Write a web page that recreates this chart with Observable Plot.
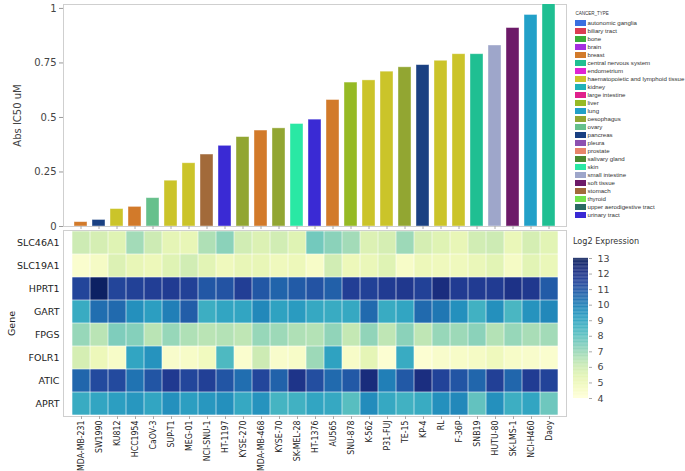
<!DOCTYPE html>
<html><head><meta charset="utf-8">
<script src="https://cdn.jsdelivr.net/npm/d3@7"></script>
<script src="https://cdn.jsdelivr.net/npm/@observablehq/plot@0.6"></script>
<style>
body{margin:0;background:#fff;}
#wrap{position:relative;width:685px;height:471px;overflow:hidden;font-family:"DejaVu Sans",sans-serif;}
#wrap > div, #wrap > svg{position:absolute;}
</style></head><body>
<div id="wrap"></div>
<script>
const lines = ["MDA-MB-231","SW1990","KU812","HCC1954","CaOV-3","SUP-T1","MEG-01","NCI-SNU-1","HT-1197","KYSE-270","MDA-MB-468","KYSE-70","SK-MEL-28","HT-1376","AU565","SNU-878","K-562","P31-FUJ","TE-15","KP-4","RL","F-36P","SNB19","HUTU-80","SK-LMS-1","NCI-H460","Daoy"];
const ic50 = [0.02,0.03,0.08,0.09,0.13,0.21,0.29,0.33,0.37,0.41,0.44,0.45,0.47,0.49,0.58,0.66,0.67,0.71,0.73,0.74,0.76,0.79,0.79,0.83,0.91,0.97,1.02];
const cancerType = ["breast","pancreas","haematopoietic and lymphoid tissue","breast","ovary","haematopoietic and lymphoid tissue","haematopoietic and lymphoid tissue","stomach","urinary tract","oesophagus","breast","oesophagus","skin","urinary tract","breast","liver","haematopoietic and lymphoid tissue","haematopoietic and lymphoid tissue","oesophagus","pancreas","haematopoietic and lymphoid tissue","haematopoietic and lymphoid tissue","central nervous system","small intestine","soft tissue","lung","central nervous system"];
const categories = ["autonomic ganglia","biliary tract","bone","brain","breast","central nervous system","endometrium","haematopoietic and lymphoid tissue","kidney","large intestine","liver","lung","oesophagus","ovary","pancreas","pleura","prostate","salivary gland","skin","small intestine","soft tissue","stomach","thyroid","upper aerodigestive tract","urinary tract"];
const categoryColors = ["#3b6fe0","#dc3c52","#3aae3a","#a52fe0","#d27a2a","#1fbf92","#e024d4","#cbc42a","#1fb2b8","#e0208c","#96ba24","#22a0c8","#92a632","#66c08c","#1a4082","#8c50b0","#e8846a","#4a8830","#2ae8a4","#9ea6ca","#6c1a68","#a26a3a","#72e24e","#2a6a62","#3a2ad4"];
const genes = ["SLC46A1","SLC19A1","HPRT1","GART","FPGS","FOLR1","ATIC","APRT"];
const SLC46A1 = [6.0,5.8,5.5,6.8,6.0,5.3,5.2,6.6,7.2,5.9,5.6,5.9,5.5,7.6,7.2,6.8,5.6,5.8,6.9,5.8,5.5,5.2,5.9,6.0,5.1,5.8,5.4];
const SLC19A1 = [4.3,4.6,5.6,5.2,5.0,5.5,5.9,5.4,4.9,5.2,5.2,4.9,5.0,4.5,5.9,5.0,5.1,5.5,4.5,5.0,4.9,4.9,5.1,5.4,4.6,5.4,5.1];
const HPRT1 = [11.45,12.8,11.45,11.55,11.65,11.75,11.55,10.95,11.05,11.65,10.95,10.65,10.85,11.05,10.75,11.65,11.55,11.75,11.85,11.55,12.25,11.75,11.75,11.75,12.05,11.85,10.85];
const GART = [8.8,10.4,10.5,9.6,9.2,10.0,10.8,8.7,9.0,9.0,9.8,9.1,9.3,8.9,8.8,8.9,10.5,8.8,9.0,10.5,10.2,9.6,8.6,9.6,8.4,9.5,9.8];
const FPGS = [7.0,6.4,7.4,7.3,6.4,7.0,6.6,6.4,6.5,6.3,7.0,6.9,6.6,6.5,7.1,6.2,7.1,6.3,7.2,6.3,7.0,6.9,7.2,6.5,7.0,6.7,6.8];
const FOLR1 = [5.8,5.0,4.5,9.0,9.5,4.4,4.5,4.8,8.3,4.3,6.0,4.4,4.5,6.9,9.1,4.5,5.3,4.2,8.8,4.2,4.4,4.5,4.6,4.9,4.5,4.4,4.3];
const ATIC = [10.6,11.3,11.3,10.3,11.0,11.8,11.4,11.6,11.0,10.4,11.4,10.7,12.0,11.2,10.5,10.9,12.3,10.0,10.9,12.2,11.5,11.0,10.6,11.6,10.6,11.7,11.5];
const APRT = [8.8,9.0,9.2,9.4,9.0,9.6,9.2,9.4,9.6,8.9,9.5,8.5,8.6,9.0,8.9,8.1,9.7,8.9,8.6,8.8,9.6,9.8,7.9,9.6,8.7,9.0,7.7];
const exprRows = [SLC46A1,SLC19A1,HPRT1,GART,FPGS,FOLR1,ATIC,APRT];
const yTicks = [0,0.25,0.5,0.75,1];
const colorTicks = [4,5,6,7,8,9,10,11,12,13];

const bars = lines.map((l,i)=>({line:l, ic50:ic50[i], type:cancerType[i]}));
const heat = [];
genes.forEach((g,gi)=>lines.forEach((l,li)=>heat.push({gene:g, line:l, value:exprRows[gi][li]})));

const wrap = document.getElementById("wrap");
function place(el, left, top){ el.style.left=left+"px"; el.style.top=top+"px"; wrap.appendChild(el); }

const catColor = {type:"ordinal", domain:categories, range:categoryColors};

const barPlot = Plot.plot({
  width:580, height:240, marginLeft:63, marginRight:14, marginTop:4, marginBottom:14,
  style:{fontFamily:"DejaVu Sans, sans-serif", fontSize:"10px", color:"#444", background:"transparent"},
  x:{type:"band", domain:lines, padding:0.26},
  y:{domain:[0,1.018]},
  color:catColor,
  marks:[
    Plot.frame({stroke:"#cfcfcf"}),
    Plot.barY(bars,{x:"line", y:"ic50", fill:"type", stroke:"#fff", strokeOpacity:0.5, strokeWidth:0.8, clip:true}),
    Plot.axisY({ticks:yTicks, tickFormat:d=>String(d), tickSize:4, tickPadding:3, stroke:"#999", label:"Abs IC50 uM", labelAnchor:"center", labelArrow:"none", labelOffset:50, fontSize:10}),
    Plot.axisX({tickFormat:()=>"", tickSize:3, stroke:"#aaa", label:null})
  ]
});
place(barPlot,0,0);

const heatPlot = Plot.plot({
  width:580, height:245, marginLeft:63, marginRight:14, marginTop:4, marginBottom:55,
  style:{fontFamily:"DejaVu Sans, sans-serif", fontSize:"10px", color:"#222", background:"transparent"},
  x:{type:"band", domain:lines, padding:0},
  y:{type:"band", domain:genes, padding:0},
  color:{type:"linear", scheme:"YlGnBu", domain:[4,13]},
  marks:[
    Plot.cell(heat,{x:"line", y:"gene", fill:"value", inset:0.3}),
    Plot.frame({stroke:"#cfcfcf"}),
    Plot.axisY({tickSize:0, tickPadding:4, fontSize:9.5, label:"Gene", labelAnchor:"center", labelArrow:"none", labelOffset:55}),
    Plot.axisX({tickSize:3, tickPadding:1, tickRotate:-90, stroke:"#aaa", label:null, fontSize:8.7, fontFamily:"DejaVu Sans Condensed, DejaVu Sans, sans-serif"})
  ]
});
place(heatPlot,0,226);

// category legend
const legendPlot = Plot.plot({
  width:113, height:230, margin:0,
  style:{fontFamily:"Liberation Sans, Arial, sans-serif", fontSize:"6.1px", color:"#333", background:"transparent"},
  x:{type:"band", domain:["s"], range:[3,14], padding:0, axis:null},
  y:{type:"band", domain:categories, range:[11.7,226.3], padding:0.22, axis:null},
  color:catColor,
  marks:[
    Plot.text(["CANCER_TYPE"],{x:()=>"s", y:()=>categories[0], dx:-5.5, dy:-10, text:d=>d, textAnchor:"start", fontSize:4.5}),
    Plot.cell(categories,{x:()=>"s", y:d=>d, fill:d=>d}),
    Plot.text(categories,{x:()=>"s", y:d=>d, text:d=>d, dx:6.5, textAnchor:"start"})
  ]
});
place(legendPlot,572,0);

// colour ramp legend
const ramp = d3.range(4,13,0.05);
const rampPlot = Plot.plot({
  width:60, height:182, marginLeft:13, marginRight:32, marginTop:32, marginBottom:10,
  style:{fontFamily:"DejaVu Sans, sans-serif", fontSize:"9.5px", color:"#444", background:"transparent"},
  x:{domain:[0,1], axis:null},
  y:{domain:[4,13]},
  color:{type:"linear", scheme:"YlGnBu", domain:[4,13]},
  marks:[
    Plot.rect(ramp,{x1:0, x2:1, y1:d=>d, y2:d=>d+0.06, fill:d=>d}),
    Plot.axisY({anchor:"right", ticks:colorTicks, tickSize:3, tickPadding:6, stroke:"#aaa", label:null})
  ]
});
place(rampPlot,560,226);
const ttl = document.createElement("div");
ttl.textContent = "Log2 Expression";
ttl.style.cssText = "font:9px 'DejaVu Sans Condensed','DejaVu Sans',sans-serif;color:#333;white-space:nowrap;";
place(ttl,573,236);
</script>
</body></html>
